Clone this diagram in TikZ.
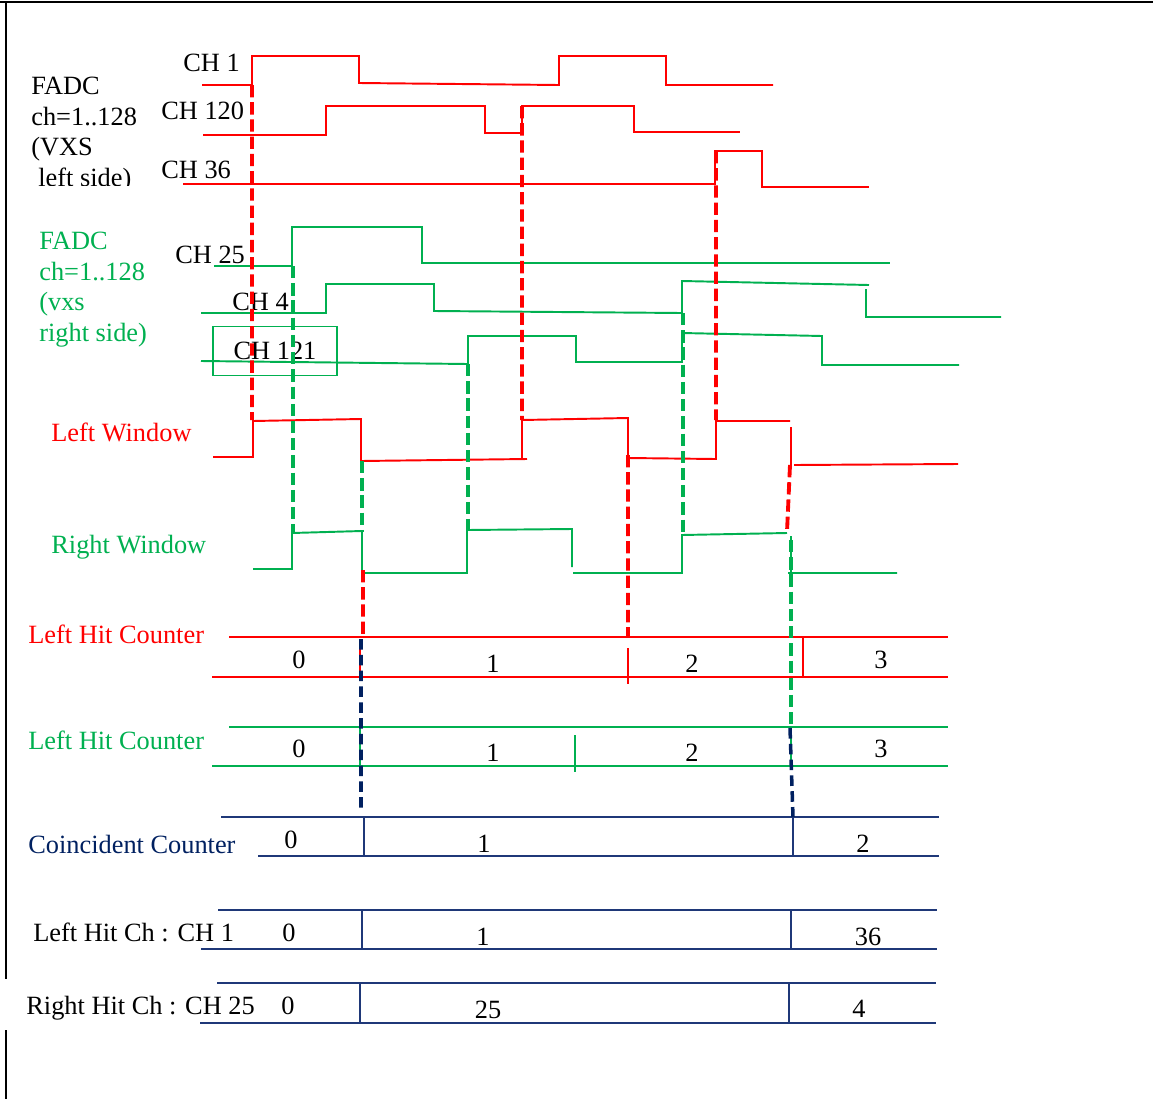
\documentclass[tikz,border=0pt]{standalone}
\usepackage{fontspec}
\setmainfont{Liberation Serif}
\definecolor{sigred}{RGB}{255,0,0}
\definecolor{siggreen}{RGB}{0,176,80}
\definecolor{navy}{RGB}{0,32,96}
\definecolor{cntblue}{RGB}{31,56,120}
\tikzset{
  lbl/.style={inner sep=0pt, font=\fontsize{15pt}{17.4pt}\selectfont},
  redwave/.style={draw=sigred, line width=1.1pt},
  greenwave/.style={draw=siggreen, line width=1.1pt},
  reddash/.style={draw=sigred, line width=2.2pt, dash pattern=on 7pt off 2.8pt},
  greendash/.style={draw=siggreen, line width=2.2pt, dash pattern=on 7pt off 2.8pt},
  navydash/.style={draw=navy, line width=2pt, dash pattern=on 6pt off 3pt},
  cntline/.style={draw=cntblue, line width=1.1pt}
}
\begin{document}
\begin{tikzpicture}[x=0.02cm, y=-0.02cm]
\useasboundingbox (0,0) rectangle (1153,1099);
\draw[line width=1.6pt] (0,2) -- (1153,2);
\draw[line width=1.6pt] (6,2) -- (6,979) (6,1030) -- (6,1099);

\begin{scope}
\clip (0,0) rectangle (155,185);
\node[lbl, anchor=north west, align=left] (fadcleft) at (31,76.7) {FADC\\ch=1..128\\(VXS\\\hspace*{4pt}left side)};
\end{scope}
\node[lbl, anchor=north west, align=left, text=siggreen] (fadcright) at (39,231.7) {FADC\\ch=1..128\\(vxs\\right side)};

\node[lbl, anchor=base west] (ch1) at (183,71) {CH 1};
\node[lbl, anchor=base west] (ch120) at (161,119) {CH 120};
\node[lbl, anchor=base west] (ch36) at (161,178) {CH 36};
\node[lbl, anchor=base west] (ch25) at (175,263) {CH 25};
\node[lbl, anchor=base west] (ch4) at (232,310) {CH 4};
\node[lbl, draw=siggreen, line width=0.6pt, minimum width=2.48cm, minimum height=0.98cm] (ch121) at (275,351) {CH 121};

\draw[redwave] (202,85) -- (252,85) -- (252,56) -- (359,56) -- (359,83) -- (559,85) -- (559,56) -- (666,56) -- (666,85) -- (773,85);
\draw[redwave] (203,135) -- (326,135) -- (326,106) -- (485,106) -- (485,133) -- (522,133) -- (522,106) -- (634,106) -- (634,132) -- (740,132);
\draw[redwave] (183,184) -- (715,184) -- (715,151) -- (762,151) -- (762,187) -- (869,187);

\draw[greenwave] (214,266) -- (292,266) -- (292,227) -- (422,227) -- (422,263) -- (890,263);
\draw[greenwave] (201,313) -- (326,313) -- (326,284) -- (434,284) -- (434,311) -- (682,313) -- (682,281) -- (869,285)
  (866,289) -- (866,317) -- (1001,317);
\draw[greenwave] (201,361) -- (468,364) -- (468,336) -- (576,336) -- (576,362) -- (682,362) -- (682,333) -- (822,336) -- (822,365) -- (959,365);

\node[lbl, anchor=base west, text=sigred] (leftwin) at (51,441) {Left Window};
\draw[redwave] (213,457) -- (253,457) -- (253,421) -- (361,419) -- (361,461) -- (527,459)
  (522,459) -- (522,420) -- (628,418) -- (628,458) -- (716,459) -- (716,421) -- (790,421)
  (791,427) -- (791,465) (794,465) -- (958,464);

\node[lbl, anchor=base west, text=siggreen] (rightwin) at (51,553) {Right Window};
\draw[greenwave] (253,569) -- (292,569) -- (292,533) -- (362,531) -- (362,573) -- (467,573) -- (467,530) -- (572,529) -- (572,567)
  (573,573) -- (682,573) -- (682,535) -- (787,533)
  (791,536) -- (791,573) (788,573) -- (897,573);

\node[lbl, anchor=base west, text=sigred] (lhcred) at (28,643) {Left Hit Counter};
\draw[redwave] (229,637) -- (948,637) (212,677) -- (948,677)
  (360,639) -- (360,677) (628,648) -- (628,684) (803,637) -- (803,677);
\node[lbl, anchor=base] (lr0) at (299,668) {0};
\node[lbl, anchor=base] (lr1) at (493,672) {1};
\node[lbl, anchor=base] (lr2) at (692,672) {2};
\node[lbl, anchor=base] (lr3) at (881,668) {3};

\node[lbl, anchor=base west, text=siggreen] (lhcgreen) at (28,749) {Left Hit Counter};
\draw[greenwave] (229,727) -- (948,727) (212,766) -- (948,766)
  (360,727) -- (360,766) (575,735) -- (575,772) (791,727) -- (791,766);
\node[lbl, anchor=base] (lg0) at (299,757) {0};
\node[lbl, anchor=base] (lg1) at (493,761) {1};
\node[lbl, anchor=base] (lg2) at (692,761) {2};
\node[lbl, anchor=base] (lg3) at (881,757) {3};

\node[lbl, anchor=base west, text=navy] (coinc) at (28,853) {Coincident Counter};
\draw[cntline] (221,817) -- (939,817) (258,856) -- (939,856)
  (364,817) -- (364,856) (793,817) -- (793,856);
\node[lbl, anchor=base] (cc0) at (291,848) {0};
\node[lbl, anchor=base] (cc1) at (484,852) {1};
\node[lbl, anchor=base] (cc2) at (863,852) {2};

\node[lbl, anchor=base west] (lhch) at (33,941) {Left Hit Ch : CH 1};
\draw[cntline] (218,910) -- (937,910) (201,949) -- (937,949)
  (362,910) -- (362,949) (791,910) -- (791,949);
\node[lbl, anchor=base] (lc0) at (289,941) {0};
\node[lbl, anchor=base] (lc1) at (483,945) {1};
\node[lbl, anchor=base] (lc36) at (868,945) {36};

\node[lbl, anchor=base west] (rhch) at (26,1014) {Right Hit Ch : CH 25};
\draw[cntline] (217,983) -- (936,983) (200,1023) -- (936,1023)
  (360,983) -- (360,1023) (789,983) -- (789,1023);
\node[lbl, anchor=base] (rc0) at (288,1014) {0};
\node[lbl, anchor=base] (rc25) at (488,1018) {25};
\node[lbl, anchor=base] (rc4) at (859,1017) {4};

\draw[reddash] (252,85) -- (252,420) (522,106) -- (522,420) (716,151) -- (716,420)
  (363,570) -- (363,637) (628,455) -- (628,637) (790,465) -- (787,532);
\draw[greendash] (293,266) -- (293,532) (362,461) -- (362,532) (468,364) -- (468,530)
  (683,313) -- (683,534) (791,540) -- (791,727);
\draw[navydash] (361,639) -- (361,810) (790,728) -- (793,817);
\end{tikzpicture}
\end{document}
